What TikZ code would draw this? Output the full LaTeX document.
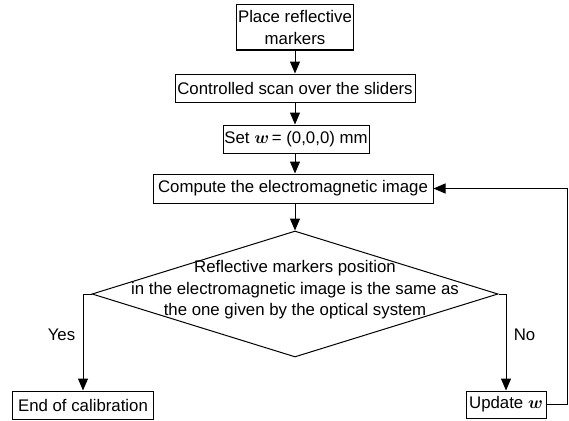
\documentclass[tikz,border=0pt]{standalone}
\usepackage{amsmath}
\usepackage{fontspec}
\setmainfont{Liberation Sans}
\usetikzlibrary{shapes.geometric,arrows.meta}
\begin{document}
\begin{tikzpicture}[x=1pt,y=-1pt,
  every node/.style={font=\fontsize{16.8}{21.5}\selectfont},
  box/.style={draw, line width=1pt, align=center, inner sep=1pt},
  arr/.style={line width=1pt, -{Triangle[length=12pt,width=10pt]}},
  lnk/.style={line width=1pt}]
\useasboundingbox (0,0) rectangle (569,420);
\node[box, minimum width=117pt, minimum height=45pt] (b1) at (295,27.5) {Place reflective\\markers};
\node[box, minimum width=240pt, minimum height=28pt] (b2) at (295,88) {Controlled scan over the sliders};
\node[box, minimum width=146pt, minimum height=28pt] (b3) at (296,139) {Set $\boldsymbol{w}$\,= (0,0,0) mm};
\node[box, minimum width=280pt, minimum height=29pt] (b4) at (293,188.5) {Compute the electromagnetic image};
\node[diamond, draw, line width=1pt, minimum width=406pt, minimum height=126pt, inner sep=0pt] (d) at (295,294) {};
\node[align=center, inner sep=0pt] (dt) at (295,290) {Reflective markers position\\in the electromagnetic image is the same as\\the one given by the optical system};
\node[box, minimum width=141pt, minimum height=28pt] (e) at (83,405) {End of calibration};
\node[box, minimum width=80pt, minimum height=27pt] (u) at (506,404.5) {Update $\boldsymbol{w}$};
\draw[arr] (b1.south -| d.north) -- (b2.north -| d.north);
\draw[arr] (b2.south -| d.north) -- (b3.north -| d.north);
\draw[arr] (b3.south -| d.north) -- (b4.north -| d.north);
\draw[arr] (b4.south -| d.north) -- (d.north);
\draw[arr] (d.west) -| node[pos=0.71, left=4pt] (yes) {Yes} (e.north);
\draw[arr] (d.east) -| node[pos=0.71, right=4pt] (no) {No} (u.north);
\coordinate (lp) at (567,404.5);
\draw[lnk] (u.east) -- (lp);
\draw[arr] (lp) |- (b4.east);
\end{tikzpicture}
\end{document}
